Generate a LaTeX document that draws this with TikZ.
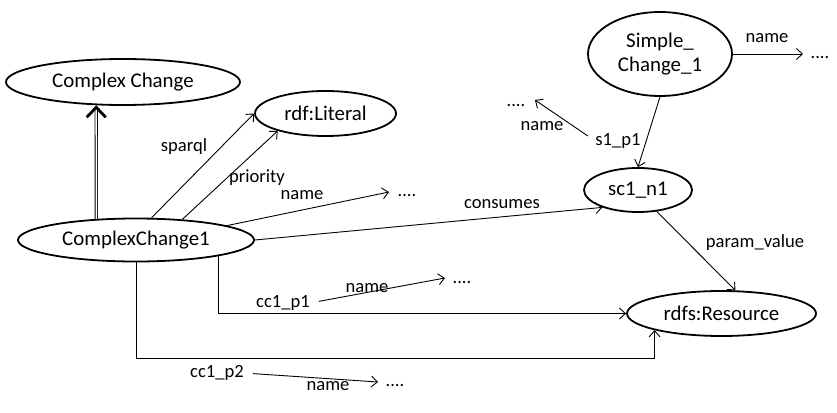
\documentclass[tikz,border=0pt]{standalone}
\usepackage{fontspec}
\setmainfont{Carlito}
\usetikzlibrary{shapes.geometric,arrows.meta,calc}
\begin{document}
\begin{tikzpicture}[x=1pt,y=-1pt,
 ell/.style={draw, ellipse, line width=1.8pt, inner sep=0pt, font=\fontsize{20.9}{24}\selectfont, align=center},
 lbl/.style={font=\fontsize{18.6}{22}\selectfont, inner sep=0pt},
 dts/.style={font=\fontsize{18.6}{22}\selectfont, inner sep=0pt},
 arr/.style={line width=0.9pt, -{Straight Barb[length=6pt,width=11pt]}},
 elbow/.style={line width=1pt, -{Straight Barb[length=6pt,width=11pt,line width=0.9pt]}},
]
\useasboundingbox (0,0) rectangle (837,412);

% ellipses
\node[ell, minimum width=234pt, minimum height=46pt] (cc) at (123,82) {Complex Change};
\node[ell, minimum width=141pt, minimum height=45pt] (lit) at (325.5,113.5) {rdf:Literal};
\node[ell, minimum width=236pt, minimum height=43pt] (cc1) at (136,240) {ComplexChange1};
\node[ell, minimum width=144pt, minimum height=84pt] (sc) at (660,54) {Simple\_\\Change\_1};
\node[ell, minimum width=108pt, minimum height=44pt] (sc1) at (638,190) {sc1\_n1};
\node[ell, minimum width=189pt, minimum height=45pt] (rdfs) at (721.5,313.5) {rdfs:Resource};

% labels
\node[lbl] (lsparql) at (184,147) {sparql};
\node[lbl] (lprio) at (257,178) {priority};
\node[lbl] (lname1) at (302,195) {name};
\node[lbl] (lcons) at (502,204) {consumes};
\node[lbl] (lname2) at (767,38) {name};
\node[lbl] (ls1p1) at (618,141) {s1\_p1};
\node[lbl] (lname3) at (542,126) {name};
\node[lbl] (lparam) at (755,243) {param\_value};
\node[lbl] (lcc1p1) at (283,303) {cc1\_p1};
\node[lbl] (lname4) at (367,288) {name};
\node[lbl] (lcc1p2) at (217,373) {cc1\_p2};
\node[lbl] (lname5) at (328,386) {name};

% dots
\node[dts] (d1) at (407,196) {....};
\node[dts] (d2) at (820,58) {....};
\node[dts] (d3) at (516,106) {....};
\node[dts] (d4) at (462,283) {....};
\node[dts] (d5) at (395,386) {....};

% free ends
\coordinate (e1) at (389,192);
\coordinate (e2) at (803,54);
\coordinate (e3) at (535,100);
\coordinate (e4) at (445,278);
\coordinate (e5) at (378,382);

% subclass (double) arrow
\draw[line width=0.9pt, double distance=1.5pt, shorten >=2pt] (cc1.152) -- (cc.221);
\draw[line width=0.9pt, -{Straight Barb[length=10pt,width=19pt,line width=2.8pt]}] ($(cc.221)+(0,3)$) -- (cc.221);

% property arrows
\draw[arr] (cc1.55) -- (lit.180);
\draw[arr] (cc1.24) -- (lit.200);
\draw[arr] (cc1.9.5) -- (e1);
\draw[arr] (cc1.east) -- (sc1.206);
\draw[arr] (sc.east) -- (e2);
\draw[arr] (sc.south) -- (sc1.north);
\draw[arr, shorten <=9pt] (ls1p1.west) -- (e3);
\draw[arr] (sc1.311) -- (rdfs.59);
\draw[arr, shorten <=9pt] (lcc1p1.east) -- (e4);
\draw[arr, shorten <=9pt] (lcc1p2.east) -- (e5);

% elbow connectors
\draw[elbow] (cc1.349.3) |- (rdfs.west);
\draw[elbow] (cc1.south) -- ++(0,96.5) -| (rdfs.194);
\end{tikzpicture}
\end{document}
